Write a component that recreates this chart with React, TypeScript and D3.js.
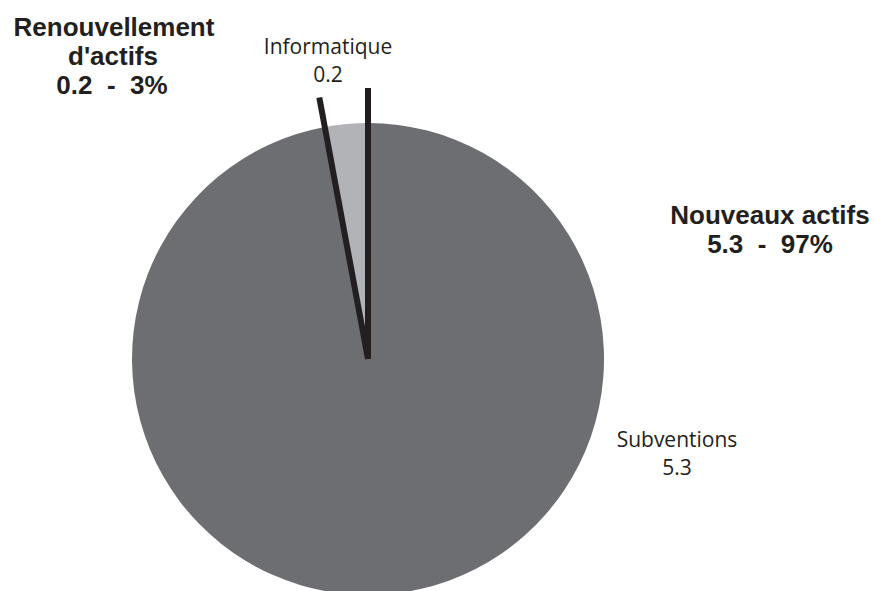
import React from "react";
import * as d3 from "d3";

const categories = ["Subventions", "Informatique"];
const values = [5.3, 0.16];
const valueLabels = ["5.3", "0.2"];
const groups = ["Nouveaux actifs", "Renouvellement d'actifs"];
const groupValueLabels = ["5.3  -  97%", "0.2  -  3%"];
const colors = ["#6d6e71", "#b1b3b6"];

const W = 876;
const H = 591;
const cx = 368;
const cy = 359;
const R = 236;

export default function App() {
  const pie = d3
    .pie<number>()
    .sort(null)
    .value((d) => d)
    .startAngle(0)
    .endAngle(2 * Math.PI);
  const arcs = pie(values);
  const arcGen = d3.arc<d3.PieArcDatum<number>>().innerRadius(0).outerRadius(R);
  const info = arcs[1];
  const sepAngles = [info.startAngle, info.endAngle];
  const sepLen = [266, 271];
  const ink = "#231f20";
  const bold = { fontFamily: "'Liberation Sans', Arial, sans-serif", fontWeight: 700, fontSize: 26, fill: ink };
  const reg = { fontFamily: "'Open Sans', sans-serif", fontSize: 21, fill: ink };
  return (
    <svg width={W} height={H} style={{ position: "absolute", left: 0, top: 0 }}>
      <rect width={W} height={H} fill="#fff" />
      <g transform={`translate(${cx},${cy})`}>
        {arcs.map((a, i) => (
          <path key={categories[i]} d={arcGen(a) || ""} fill={colors[i]} />
        ))}
        {sepAngles.map((ang, i) => (
          <line
            key={i}
            x1={0}
            y1={0}
            x2={Math.sin(ang) * sepLen[i]}
            y2={-Math.cos(ang) * sepLen[i]}
            stroke={ink}
            strokeWidth={6}
          />
        ))}
      </g>
      <g textAnchor="middle">
        <text x={114} y={36} {...bold}>Renouvellement</text>
        <text x={113} y={65} {...bold}>d'actifs</text>
        <text x={112} y={94} {...bold} xmlSpace="preserve">{groupValueLabels[1]}</text>
        <text x={770} y={224} {...bold}>{groups[0]}</text>
        <text x={770} y={253} {...bold} xmlSpace="preserve">{groupValueLabels[0]}</text>
        <text x={328} y={54} {...reg}>{categories[1]}</text>
        <text x={328} y={82} {...reg}>{valueLabels[1]}</text>
        <text x={677} y={447} {...reg}>{categories[0]}</text>
        <text x={677} y={475} {...reg}>{valueLabels[0]}</text>
      </g>
    </svg>
  );
}
